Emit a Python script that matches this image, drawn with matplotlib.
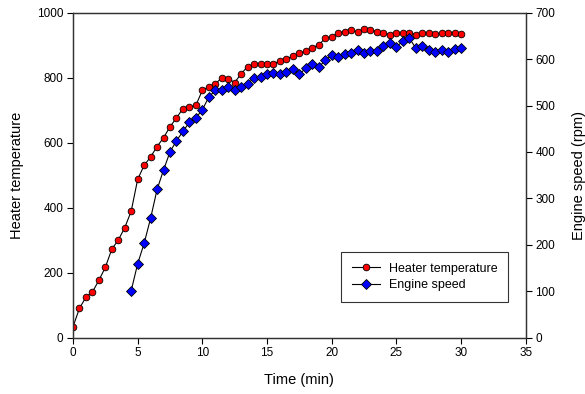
import matplotlib
matplotlib.use("Agg")
import matplotlib.pyplot as plt

plt.rcParams['font.family'] = ['Liberation Sans', 'DejaVu Sans']

# Heater temperature, every 0.5 min from 0 to 30
heat_time = [i * 0.5 for i in range(61)]
heat_temp = [33, 90, 124, 140, 176, 216, 272, 300, 338, 389,
             487, 530, 556, 588, 615, 649, 676, 705, 710, 715,
             761, 772, 781, 799, 797, 785, 812, 834, 841, 843,
             841, 842, 852, 856, 867, 876, 881, 892, 901, 921,
             926, 937, 942, 946, 940, 951, 946, 942, 939, 932,
             937, 937, 939, 932, 937, 936, 935, 936, 939, 936,
             933]

# Engine speed, every 0.5 min from 4.5 to 30
speed_time = [4.5 + i * 0.5 for i in range(52)]
speed_rpm = [101, 159, 203, 257, 319, 361, 400, 424, 444, 464,
             473, 491, 518, 533, 534, 540, 534, 540, 547, 559,
             562, 567, 570, 567, 573, 578, 568, 580, 590, 583,
             597, 608, 604, 610, 614, 620, 614, 618, 617, 628,
             635, 627, 638, 645, 624, 629, 619, 615, 620, 615,
             622, 625]

fig = plt.figure(figsize=(5.85, 3.94), dpi=100)
ax = fig.add_axes([73 / 585, 1 - 337.5 / 394, (525.7 - 73) / 585, (337.5 - 12.7) / 394])
ax2 = ax.twinx()

l1, = ax.plot(heat_time, heat_temp, color='black', lw=0.8, marker='o', ms=4.8,
              mfc='red', mec='black', mew=0.6, label='Heater temperature')
l2, = ax2.plot(speed_time, speed_rpm, color='black', lw=0.8, marker='D', ms=4.6,
               mfc='blue', mec='black', mew=0.6, label='Engine speed')

ax.set_xlim(0, 35)
ax.set_ylim(0, 1000)
ax2.set_ylim(0, 700)
ax.set_xticks(range(0, 36, 5))
ax.set_yticks(range(0, 1001, 200))
ax2.set_yticks(range(0, 701, 100))

for a in (ax, ax2):
    a.tick_params(direction='out', length=4, width=0.8, labelsize=8.5, pad=3)
    for s in a.spines.values():
        s.set_linewidth(0.9)
        s.set_color('#333333')

ax.set_xlabel('Time (min)', fontsize=10.5, labelpad=10)
ax.set_ylabel('Heater temperature', fontsize=10.5, labelpad=9)
ax2.set_ylabel('Engine speed (rpm)', fontsize=10.5, labelpad=12, rotation=90)

leg = ax2.legend(handles=[l1, l2], loc='lower right', bbox_to_anchor=(0.962, 0.108),
                 fontsize=9, frameon=True, fancybox=False, borderpad=0.9,
                 handlelength=2.2, handletextpad=0.7, labelspacing=0.35,
                 borderaxespad=0)
leg.get_frame().set_edgecolor('black')
leg.get_frame().set_linewidth(0.8)

fig.savefig('out.png', dpi=100)
